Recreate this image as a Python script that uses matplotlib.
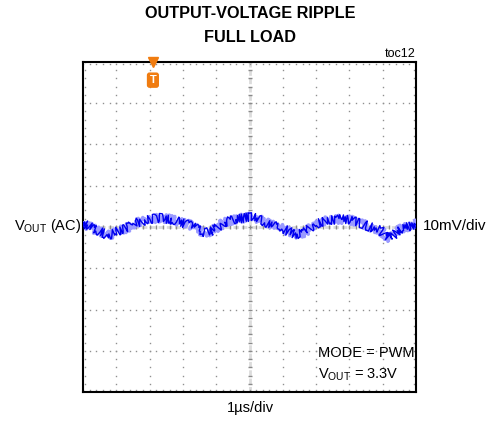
import matplotlib
matplotlib.use("Agg")
import matplotlib.pyplot as plt
import numpy as np

plt.rcParams['font.family'] = ['Liberation Sans', 'DejaVu Sans']

# trace: time (us) vs ripple (mV, AC coupled)
t_us = [0.0, 0.21, 0.51, 0.72, 0.90, 1.05, 1.26, 1.41, 1.56, 1.71, 2.01, 2.31,
        2.61, 2.91, 3.21, 3.42, 3.66, 3.87, 4.05, 4.26, 4.56, 4.86, 5.01, 5.16,
        5.38, 5.62, 5.92, 6.22, 6.37, 6.52, 6.67, 6.88, 7.12, 7.42, 7.72, 8.02,
        8.32, 8.62, 8.92, 9.07, 9.22, 9.37, 9.52, 9.82, 10.0]
v_mv = [1.0, 0.0, -1.2, -1.9, -1.7, -1.0, -0.5, 0.2, 1.0, 1.2, 1.9, 2.2,
        1.9, 1.2, 0.5, -0.5, -1.4, -1.0, 0.0, 1.2, 1.9, 2.2, 2.4, 2.2,
        1.5, 0.7, -0.2, -1.2, -1.7, -1.7, -1.2, 0.2, 1.2, 1.7, 1.9, 1.7,
        1.0, 0.0, -0.7, -1.9, -2.7, -1.7, -0.5, 0.2, 1.0]

x_divs = 10
y_divs = 8
mv_per_div = 10
trig_t = 2.1

fig = plt.figure(figsize=(4.95, 4.23), dpi=100)
ax = fig.add_axes([83/495, 31/423, 333/495, 330/423])
ax.set_xlim(0, x_divs)
ax.set_ylim(-y_divs/2*mv_per_div, y_divs/2*mv_per_div)
ax.set_xticks([])
ax.set_yticks([])
for s in ax.spines.values():
    s.set_linewidth(1.5)

# dotted graticule
ymin, ymax = ax.get_ylim()
sub_y = np.arange(ymin, ymax + 0.01, mv_per_div/5)
sub_x = np.arange(0, x_divs + 0.01, 0.2)
dot = dict(ls='none', marker='s', ms=1.0, color='#909090', mew=0)
for i in range(1, x_divs):
    if i == x_divs // 2:
        continue
    ax.plot([i]*len(sub_y), sub_y, **dot)
for j in range(1, y_divs):
    yv = ymin + j*mv_per_div
    if yv == 0:
        continue
    ax.plot(sub_x, [yv]*len(sub_x), **dot)
# dots along the border
ax.plot(sub_x, [ymax - 0.6]*len(sub_x), **dot)
ax.plot(sub_x, [ymin + 0.6]*len(sub_x), **dot)
ax.plot([0.05]*len(sub_y), sub_y, **dot)
ax.plot([9.95]*len(sub_y), sub_y, **dot)

# center crosshair
ax.axvline(5, color='#dcdcdc', lw=2, ls=(0, (2, 1)), zorder=1)
ax.axhline(0, color='#dcdcdc', lw=2, ls=(0, (2, 1)), zorder=1)
ax.plot([5]*len(sub_y), sub_y, ls='none', marker='_', ms=3.5, mew=1, color='#8a8a8a')
ax.plot(sub_x, [0]*len(sub_x), ls='none', marker='|', ms=3.5, mew=1, color='#8a8a8a')

# ripple trace
halo, = ax.plot(t_us, v_mv, color='#9a9aff', lw=2.5, zorder=3)
halo.set_sketch_params(scale=4, length=0.8, randomness=3)
tr, = ax.plot(t_us, v_mv, color='#0000ee', lw=1.0, zorder=4)
tr.set_sketch_params(scale=4.5, length=0.6, randomness=3)

# trigger marker
ax.plot([trig_t], [ymax], marker='v', ms=7, color='#f07c10', clip_on=False, zorder=6)
ax.text(trig_t, ymax - 4.4, 'T', ha='center', va='center', color='white',
        fontsize=8, fontweight='bold', zorder=7,
        bbox=dict(boxstyle='round,pad=0.18', fc='#f07c10', ec='#f07c10'))

# labels
fig.text(250/495, 1 - 13/423, 'OUTPUT-VOLTAGE RIPPLE', ha='center', va='center',
         fontsize=11.7, fontweight='bold')
fig.text(250/495, 1 - 37.5/423, 'FULL LOAD', ha='center', va='center',
         fontsize=11.7, fontweight='bold')
fig.text(416/495, 1 - 54/423, 'toc12', ha='right', va='center', fontsize=9)
fig.text(14/495, 1 - 226/423, r'V$_{\mathregular{OUT}}$ (AC)', ha='left', va='center', fontsize=10.5)
fig.text(423/495, 1 - 226/423, '10mV/div', ha='left', va='center', fontsize=11)
fig.text(250/495, 1 - 408/423, '1µs/div', ha='center', va='center', fontsize=10.5)
ax.text(318/495, 1 - 353/423, 'MODE = PWM', transform=fig.transFigure,
        ha='left', va='center', fontsize=10.5, zorder=8)
ax.text(318/495, 1 - 375/423, r'V$_{\mathregular{OUT}}$ = 3.3V', transform=fig.transFigure,
        ha='left', va='center', fontsize=10.5, zorder=8)

fig.savefig('out.png', dpi=100)
